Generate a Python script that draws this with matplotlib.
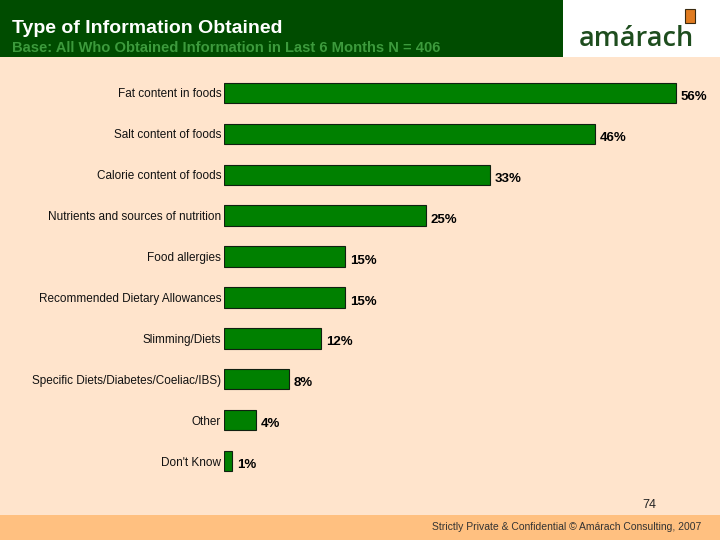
import matplotlib.pyplot as plt
import matplotlib.patches as patches

categories = ['Fat content in foods', 'Salt content of foods', 'Calorie content of foods',
              'Nutrients and sources of nutrition', 'Food allergies',
              'Recommended Dietary Allowances', 'Slimming/Diets',
              'Specific Diets/Diabetes/Coeliac/IBS)', 'Other', "Don't Know"]
values = [56, 46, 33, 25, 15, 15, 12, 8, 4, 1]

plt.rcParams['font.family'] = ['Liberation Sans', 'DejaVu Sans']

fig = plt.figure(figsize=(7.2, 5.4), dpi=100)
fig.patch.set_facecolor('#FFE4CC')

# header band, logo box and footer band
fig.patches.append(patches.Rectangle((0, 1 - 57/540), 563/720, 57/540, transform=fig.transFigure,
                                     facecolor='#004C00', edgecolor='none', zorder=0))
fig.patches.append(patches.Rectangle((563/720, 1 - 57/540), 157/720, 57/540, transform=fig.transFigure,
                                     facecolor='white', edgecolor='none', zorder=0))
fig.patches.append(patches.Rectangle((0, 0), 1, 25/540, transform=fig.transFigure,
                                     facecolor='#FFC080', edgecolor='none', zorder=0))

fig.text(12/720, 1 - 33/540, 'Type of Information Obtained', color='white', fontsize=14,
         fontweight='bold', va='baseline')
fig.text(12/720, 1 - 52/540, 'Base: All Who Obtained Information in Last 6 Months N = 406',
         color='#3C9A3C', fontsize=10.6, fontweight='bold', va='baseline')

# logo
fig.text(579/720, 1 - 46/540, 'amárach', color='#1E4D1E', fontsize=19.5, fontweight='semibold',
         va='baseline', family=['Open Sans', 'DejaVu Sans'])
fig.patches.append(patches.Rectangle((685/720, 1 - 23/540), 10/720, 14/540, transform=fig.transFigure,
                                     facecolor='#E07B20', edgecolor='#3A2A10', lw=0.8, zorder=2))

fig.text(656/720, 1 - 508/540, '74', fontsize=9, ha='right', va='baseline', color='#222222')
fig.text(701/720, 1 - 530/540, 'Strictly Private & Confidential © Amárach Consulting, 2007',
         fontsize=7.5, ha='right', va='baseline', color='#333333')

ax = fig.add_axes([224/720, 1 - 481.5/540, 484/720, 409/540])
ax.set_facecolor('none')
y = list(range(len(categories)))
ax.barh(y, values, height=0.5, color='#008000', edgecolor='#102010', linewidth=0.8)
for yi, v in zip(y, values):
    ax.text(v + 0.6, yi + 0.1, f'{v}%', fontsize=9.5, fontweight='bold', va='center', ha='left')
ax.set_xlim(0, 60)
ax.set_ylim(len(categories) - 0.5, -0.5)
ax.set_yticks(y)
ax.set_yticklabels(categories, fontsize=8.5, color='#111111')
ax.tick_params(axis='y', length=0, pad=2)
ax.set_xticks([])
for s in ax.spines.values():
    s.set_visible(False)

fig.savefig('out.png', dpi=100, facecolor=fig.get_facecolor())
